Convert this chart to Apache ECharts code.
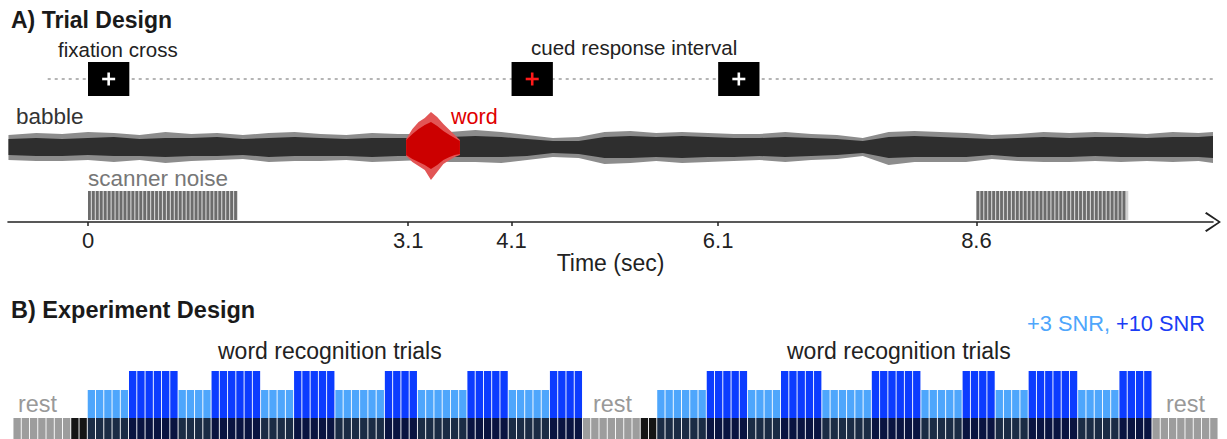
<!DOCTYPE html>
<html><head><meta charset="utf-8">
<script src="https://cdn.jsdelivr.net/npm/echarts@6/dist/echarts.min.js"></script>
<style>html,body{margin:0;padding:0;background:#fff}#c{width:1227px;height:439px}</style>
</head><body><div id="c"></div>
<script>
// ================= Panel A: trial design =================
const tickTimes = [0, 3.1, 4.1, 6.1, 8.6];
const fixationOnsets = [0, 4.1, 6.1];
const fixationDuration = 0.4;
const fixationCued = [0, 1, 0];
const scannerWindows = [[0, 1.45], [8.6, 10.07]];

// babble envelope (amplitude)
const babbleTimes = [-0.77,-0.5,-0.25,0,0.25,0.5,0.75,1,1.25,1.5,1.75,2,2.25,2.5,2.75,3,3.25,3.5,3.75,4,4.25,4.5,4.75,5,5.25,5.5,5.75,6,6.25,6.5,6.75,7,7.25,7.5,7.75,8,8.25,8.5,8.75,9,9.25,9.5,9.75,10,10.25,10.5,10.75,10.89];
const babbleCoreUp  = [8,9,8,9,10,8,9,9,10,8,9,10,9,8,9,9,9,10,11,10,8,6,6,10,11,10,11,10,9,9,10,9,8,6,10,11,10,9,8,9,10,9,10,10,9,10,10,11];
const babbleCoreLow = [8,9,9,8,9,9,10,9,9,8,10,9,9,9,10,9,9,10,10,10,9,6,7,11,11,10,11,10,10,9,10,9,8,6,11,10,10,10,8,10,10,10,9,10,10,10,10,11];
const babbleOuterUp = [12,14,13,15,14,12,15,13,14,12,14,15,13,12,14,13,13,15,17,15,12,9,10,15,16,14,15,14,13,13,15,13,12,9,15,16,15,14,12,13,15,14,15,14,13,15,14,15];
const babbleOuterLow= [13,14,14,13,15,13,16,14,13,12,15,14,14,13,15,14,13,15,15,16,13,10,11,17,16,14,16,15,14,13,15,13,12,9,18,15,15,15,12,14,15,15,14,15,14,15,14,16];

// word envelope
const wordTimes    = [3.08,3.14,3.2,3.26,3.32,3.38,3.44,3.5,3.55,3.6];
const wordOuterUp  = [8,18,25,29,35,30,23,17,12,7];
const wordOuterLow = [9,15,19,23,33,25,17,13,10,8];
const wordCoreUp   = [7,13,18,22,25,21,16,12,9,6];
const wordCoreLow  = [8,12,15,18,22,18,13,10,8,7];

// ================= Panel B: experiment design =================
const restScans  = [7, 7, 8];
const dummyScans = [2, 2];
const block1Runs = [5,6,4,6,4,5,6,4,6,5,5,4];   // alternating +3 SNR / +10 SNR, starting +3
const block2Runs = [6,5,4,5,6,6,5,4,4,6,5,4];

// ---------------- build ----------------
const T_MIN = -0.7744, T_MAX = 10.89;
const FONT = '"Liberation Sans", Arial, Helvetica, sans-serif';

const scans = [];
function pushRun(kind, n) { for (let i = 0; i < n; i++) scans.push(kind); }
pushRun('rest', restScans[0]); pushRun('dummy', dummyScans[0]);
block1Runs.forEach((n, i) => pushRun(i % 2 ? 'snr10' : 'snr3', n));
pushRun('rest', restScans[1]); pushRun('dummy', dummyScans[1]);
block2Runs.forEach((n, i) => pushRun(i % 2 ? 'snr10' : 'snr3', n));
pushRun('rest', restScans[2]);

const rowColor = {rest:'#9d9d9d', dummy:'#151515', snr3:'#1b2c45', snr10:'#0a1440'};
const topColor = {snr3:'#4ea6fc', snr10:'#0c3cff'};
const topHeight = {rest:0, dummy:0, snr3:28, snr10:47};
const ROW_H = 21;

// envelope band drawn as a polygon through the axis scales
function band(times, up, low, color, z) {
  return {type:'custom', xAxisIndex:1, yAxisIndex:1, silent:true, z,
    data:[[times[0], 0]], encode:{x:0, y:1},
    renderItem(params, api) {
      const pts = times.map((t, i) => api.coord([t, up[i]]));
      for (let i = times.length - 1; i >= 0; i--) pts.push(api.coord([times[i], -low[i]]));
      return {type:'polygon', shape:{points: pts}, style:{fill: color}};
    }};
}

function txt(text, x, y, size, color, opts) {
  opts = opts || {};
  return {type:'text', x, y, silent:true, z:50,
    style:{text, fill:color, font:(opts.bold ? 'bold ' : '') + size + 'px ' + FONT,
      textAlign: opts.align || 'left', align: opts.align || 'left',
      textVerticalAlign:'middle', verticalAlign:'middle'}};
}

const hiddenValueX = (gi) => ({gridIndex:gi, type:'value', min:T_MIN, max:T_MAX, show:false});

const option = {
  animation: false,
  grid: [
    {left:8, right:14, top:62, height:34},    // fixation row
    {left:8, right:14, top:97, height:100},   // waveform
    {left:8, right:14, top:191, height:29},   // scanner noise + time axis
    {left:13, right:9, top:371, height:68}    // experiment design
  ],
  xAxis: [
    hiddenValueX(0),
    hiddenValueX(1),
    {gridIndex:2, type:'value', min:T_MIN, max:T_MAX, offset:2,
      axisLine:{show:true, onZero:false, lineStyle:{color:'#222', width:1.6},
        symbol:['none', 'path://M10,0 L20,14.6 L18.6,16 L10,2.8 L1.4,16 L0,14.6 Z'], symbolSize:[21,16]},
      axisTick:{show:true, customValues: tickTimes, length:4, lineStyle:{color:'#222', width:1.5}},
      axisLabel:{show:true, customValues: tickTimes, fontSize:22, color:'#222', fontFamily:FONT, margin:7,
        formatter: v => String(v)},
      splitLine:{show:false},
      name:'Time (sec)', nameLocation:'middle', nameGap:24,
      nameTextStyle:{fontSize:23, color:'#222', fontFamily:FONT}},
    {gridIndex:3, type:'category', data: scans.map((s, i) => i), show:false}
  ],
  yAxis: [
    {gridIndex:0, type:'value', min:0, max:1, show:false},
    {gridIndex:1, type:'value', min:-50, max:50, show:false},
    {gridIndex:2, type:'value', min:0, max:1, show:false},
    {gridIndex:3, type:'value', min:0, max:ROW_H + 47, show:false}
  ],
  graphic: [
    txt('A) Trial Design', 11, 20, 23, '#1a1a1a', {bold:true}),
    txt('fixation cross', 58, 49, 20.5, '#222'),
    txt('cued response interval', 531, 47, 20.5, '#222'),
    txt('babble', 16, 116, 22.5, '#333'),
    txt('word', 451, 117, 21.5, '#e00000'),
    txt('scanner noise', 88, 178, 22.5, '#777'),
    txt('B) Experiment Design', 11, 310, 23.5, '#1a1a1a', {bold:true}),
    txt('+3 SNR,', 1027, 323, 21.8, '#4ea6fc'),
    txt('+10 SNR', 1205, 323, 21.8, '#1a3df5', {align:'right'}),
    txt('word recognition trials', 218, 351, 23, '#222'),
    txt('word recognition trials', 787, 351, 23, '#222'),
    txt('rest', 18, 404, 23.4, '#999'),
    txt('rest', 593, 404, 23.4, '#999'),
    txt('rest', 1166, 404, 23.4, '#999')
  ],
  series: [
    // dotted guide line behind the fixation boxes
    {type:'line', xAxisIndex:0, yAxisIndex:0, data:[[-0.39, 0.5], [T_MAX + 0.05, 0.5]], symbol:'none', silent:true,
      lineStyle:{color:'#b5b5b5', width:2, type:[3, 4]}, z:1},
    // fixation crosses
    {type:'custom', xAxisIndex:0, yAxisIndex:0, z:5, silent:true,
      data: fixationOnsets.map((t, i) => [t, fixationDuration, fixationCued[i]]),
      encode:{x:0},
      renderItem(params, api) {
        const t = api.value(0), d = api.value(1);
        const p0 = api.coord([t, 1]), p1 = api.coord([t + d, 0]);
        const x = p0[0], y = p0[1], w = p1[0] - p0[0], h = p1[1] - p0[1];
        const cx = x + w / 2, cy = y + h / 2;
        const col = api.value(2) ? '#ff1a1a' : '#ffffff';
        return {type:'group', children:[
          {type:'rect', shape:{x, y, width:w, height:h}, style:{fill:'#000'}},
          {type:'rect', shape:{x:cx - 6.5, y:cy - 1.3, width:13, height:2.6}, style:{fill:col}},
          {type:'rect', shape:{x:cx - 1.3, y:cy - 6.5, width:2.6, height:13}, style:{fill:col}}
        ]};
      }},
    // babble + word waveform envelopes
    band(babbleTimes, babbleOuterUp, babbleOuterLow, '#8c8c8c', 2),
    band(babbleTimes, babbleCoreUp, babbleCoreLow, '#2e2e2e', 3),
    band(wordTimes, wordOuterUp, wordOuterLow, '#e25555', 4),
    band(wordTimes, wordCoreUp, wordCoreLow, '#cc0000', 5),
    // scanner noise
    {type:'custom', xAxisIndex:2, yAxisIndex:2, silent:true, z:3,
      data: scannerWindows, encode:{x:[0, 1]},
      renderItem(params, api) {
        const s = api.coord([api.value(0), 1]), e = api.coord([api.value(1), 0]);
        const h = e[1] - s[1];
        const children = [{type:'rect', shape:{x:s[0], y:s[1], width:e[0] - s[0], height:h}, style:{fill:'#d2d2d2'}}];
        for (let x = s[0]; x + 2.8 <= e[0] + 0.01; x += 3.95)
          children.push({type:'rect', shape:{x, y:s[1], width:2.8, height:h}, style:{fill:'#6c6c6c'}});
        return {type:'group', children};
      }},
    // experiment design bars
    {type:'bar', xAxisIndex:3, yAxisIndex:3, stack:'scan', silent:true, barCategoryGap:'11%',
      data: scans.map(s => ({value: ROW_H, itemStyle:{color: rowColor[s]}}))},
    {type:'bar', xAxisIndex:3, yAxisIndex:3, stack:'scan', silent:true, barCategoryGap:'11%',
      data: scans.map(s => ({value: topHeight[s], itemStyle:{color: topColor[s] || 'transparent'}}))}
  ]
};

const chart = echarts.init(document.getElementById('c'), null, {renderer:'svg'});
chart.setOption(option);
</script>
</body></html>
